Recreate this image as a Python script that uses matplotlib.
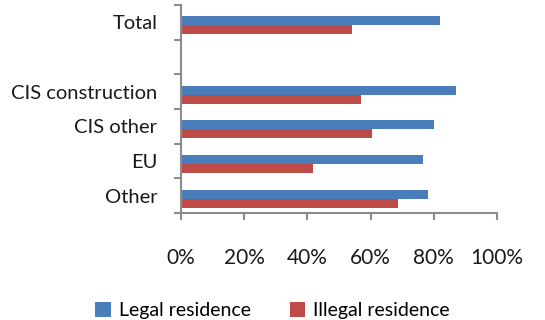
import numpy as np
import matplotlib
matplotlib.use("Agg")
import matplotlib.pyplot as plt

categories = ["Total", "", "CIS construction", "CIS other", "EU", "Other"]
legal = [82, np.nan, 87, 80, 76.7, 78.3]
illegal = [54, np.nan, 57, 60.5, 41.7, 68.7]
xticks = [0, 20, 40, 60, 80, 100]

plt.rcParams['font.family'] = ['Lato', 'DejaVu Sans']

fig = plt.figure(figsize=(5.45, 3.2), dpi=100)
ax = fig.add_axes([0.332, 0.334, 0.580, 0.650])

pos = np.arange(len(categories))
h = 0.26
ax.barh(pos - h / 2 + 0.08, legal, height=h, color="#4A7EBB", label="Legal residence")
ax.barh(pos + h / 2 + 0.08, illegal, height=h, color="#BE4B48", label="Illegal residence")

ax.set_ylim(len(categories) - 0.5, -0.5)
ax.set_xlim(0, 100)

grey = "#8C8C8C"
for s in ["top", "right"]:
    ax.spines[s].set_visible(False)
for s in ["left", "bottom"]:
    ax.spines[s].set_color(grey)
    ax.spines[s].set_linewidth(1.5)

ax.set_yticks(pos)
ax.set_yticklabels(categories, fontsize=14.5, color="#1a1a1a")
ax.set_yticks(np.arange(len(categories) + 1) - 0.5, minor=True)
ax.tick_params(axis="y", which="major", length=0, pad=17)
ax.tick_params(axis="y", which="minor", length=5, width=1.5, color=grey)

ax.set_xticks(xticks)
ax.set_xticklabels([f"{t}%" for t in xticks], fontsize=15, color="#1a1a1a")
ax.tick_params(axis="x", length=5, width=1.5, color=grey, pad=20)

fig.legend(loc="center", bbox_to_anchor=(0.5, 0.03), ncol=2, frameon=False,
           fontsize=14, handlelength=0.8, handleheight=0.8, columnspacing=2.0,
           handletextpad=0.4)

fig.savefig("out.png", dpi=100)
